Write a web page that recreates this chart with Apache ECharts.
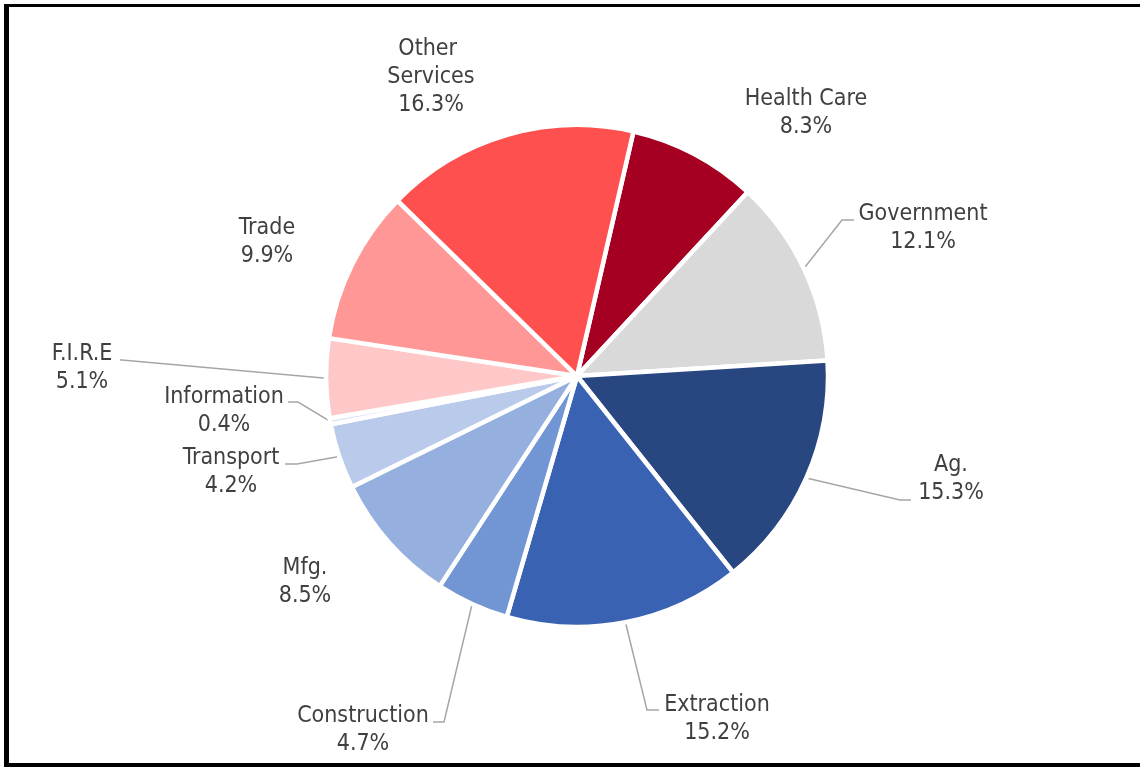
<!DOCTYPE html>
<html>
<head>
<meta charset="utf-8">
<script src="https://cdn.jsdelivr.net/npm/echarts@6/dist/echarts.min.js"></script>
<style>
  html, body { margin: 0; padding: 0; background: #fff; overflow: hidden; }
  #frame { position: absolute; left: 4px; top: 4px; width: 1200px; height: 756px;
           border-left: 5px solid #000; border-top: 3px solid #000; border-bottom: 4px solid #000; }
  #chart { position: absolute; left: 0; top: 0; width: 1140px; height: 767px; }
</style>
</head>
<body>
<div id="frame"></div>
<div id="chart"></div>
<script>
// ---- data ----
const categories = ['Health Care', 'Government', 'Ag.', 'Extraction', 'Construction', 'Mfg.',
                    'Transport', 'Information', 'F.I.R.E', 'Trade', 'Other Services'];
const shares = [8.3, 12.1, 15.3, 15.2, 4.7, 8.5, 4.2, 0.4, 5.1, 9.9, 16.3];

// ---- styling / layout ----
const sliceColors = ['#A50021', '#D9D9D9', '#284680', '#3963B2', '#7196D3', '#95B0DF',
                     '#B9CAEA', '#DCE5F4', '#FFC8C8', '#FF9797', '#FF5050'];
// label anchor (center of text block) and optional leader bend / end
const labelSpots = {
  'Health Care':    { x: 806, y: 113 },
  'Government':     { x: 923, y: 228, bend: [842, 220], end: [854, 220] },
  'Ag.':            { x: 951, y: 479, bend: [900, 500], end: [911, 500] },
  'Extraction':     { x: 717, y: 719, bend: [647, 710], end: [659, 710] },
  'Construction':   { x: 363, y: 730, bend: [444, 722], end: [433, 722] },
  'Mfg.':           { x: 305, y: 582 },
  'Transport':      { x: 231, y: 472, bend: [297, 464], end: [285, 464] },
  'Information':    { x: 224, y: 411, bend: [298, 402], end: [288, 402] },
  'F.I.R.E':        { x: 82,  y: 368, bend: [122, 360], end: [120, 360] },
  'Trade':          { x: 267, y: 242 },
  'Other Services': { x: 431, y: 77 }
};

const seriesData = categories.map((name, i) => {
  const spot = labelSpots[name];
  const item = {
    name: name,
    value: shares[i],
    itemStyle: { color: sliceColors[i] },
    labelLine: { show: !!spot.bend }
  };
  if (name === 'Other Services') {
    item.label = { width: 110, overflow: 'break' };
  }
  return item;
});

const chart = echarts.init(document.getElementById('chart'), null, { renderer: 'canvas' });
chart.setOption({
  animation: false,
  backgroundColor: 'transparent',
  series: [{
    type: 'pie',
    center: [577, 376],
    radius: 251,
    startAngle: 77,
    clockwise: true,
    avoidLabelOverlap: false,
    data: seriesData,
    itemStyle: { borderColor: '#ffffff', borderWidth: 4.5 },
    label: {
      show: true,
      position: 'outside',
      formatter: p => p.name + '\n' + p.value.toFixed(1) + '%',
      fontFamily: '"DejaVu Sans Condensed", "DejaVu Sans", sans-serif',
      fontSize: 23,
      lineHeight: 28,
      color: '#404040',
      align: 'center'
    },
    labelLine: {
      show: true,
      length: 20,
      length2: 10,
      smooth: false,
      lineStyle: { color: '#A6A6A6', width: 1.5 }
    },
    labelLayout: function (params) {
      const name = categories[params.dataIndex];
      const spot = labelSpots[name];
      const out = { x: spot.x, y: spot.y, align: 'center', verticalAlign: 'middle' };
      if (spot.bend && params.labelLinePoints) {
        const start = params.labelLinePoints[0];
        out.labelLinePoints = [[start[0], start[1]], spot.bend, spot.end];
      }
      return out;
    },
    emphasis: { disabled: true }
  }]
});
</script>
</body>
</html>
